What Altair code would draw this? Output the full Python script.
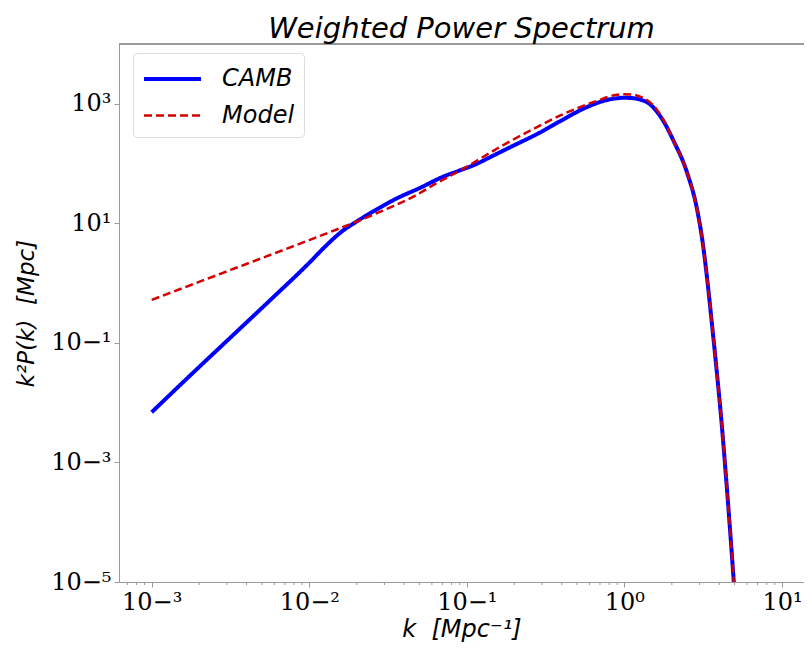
import altair as alt
import pandas as pd

# ---- data ----
camb_k = [0.001, 0.001778, 0.003162, 0.005623, 0.01, 0.01259, 0.01585, 0.01995,
          0.02512, 0.03548, 0.05012, 0.07079, 0.08913, 0.1122, 0.1413, 0.1905,
          0.2818, 0.3981, 0.5623, 0.7943, 1.0, 1.122, 1.259, 1.413, 1.585,
          1.778, 2.042, 2.512, 2.884, 3.162, 3.342, 3.597, 3.864, 4.159,
          4.426, 4.699, 4.932, 5.129]
camb_v = [0.00692, 0.0295, 0.123, 0.513, 2.19, 4.07, 7.08, 10.7,
          15.5, 25.7, 38.9, 60.3, 75.9, 95.5, 128.8, 190.5,
          316.2, 524.8, 851.1, 1175, 1259, 1245, 1175, 1035, 776,
          501, 245.5, 67.6, 17.8, 4.17, 1.259, 0.204, 0.0316, 0.00398,
          0.000525, 6.61e-5, 1.12e-5, 2.51e-6]

model_k = [0.001, 0.003162, 0.01, 0.01995, 0.03162, 0.04581, 0.0631, 0.0951,
           0.1549, 0.2523, 0.4102, 0.6683, 0.8913, 1.0, 1.122, 1.259, 1.413,
           1.585, 1.778, 2.042, 2.512, 2.884, 3.162, 3.342, 3.597, 3.864,
           4.159, 4.426, 4.699, 4.932, 5.129]
model_v = [0.525, 1.66, 5.25, 10.7, 17.8, 27.9, 45.7, 82.2,
           176.6, 355.6, 673, 1117, 1413, 1445, 1429, 1318, 1122,
           832, 525, 245.5, 67.6, 17.8, 4.17, 1.259, 0.204, 0.0316,
           0.00398, 0.000525, 6.61e-5, 1.12e-5, 2.51e-6]

series_names = ["CAMB", "Model"]
x_major = [0.001, 0.01, 0.1, 1, 10]
x_minor = [0.0007, 0.0008, 0.0009,
           0.002, 0.003, 0.004, 0.005, 0.006, 0.007, 0.008, 0.009,
           0.02, 0.03, 0.04, 0.05, 0.06, 0.07, 0.08, 0.09,
           0.2, 0.3, 0.4, 0.5, 0.6, 0.7, 0.8, 0.9,
           2, 3, 4, 5, 6, 7, 8, 9]
y_major = [1e-5, 1e-3, 1e-1, 1e1, 1e3]

# ---- build tables ----
df = pd.concat([
    pd.DataFrame({"series": series_names[0], "k": camb_k, "v": camb_v, "o": range(len(camb_k))}),
    pd.DataFrame({"series": series_names[1], "k": model_k, "v": model_v, "o": range(len(model_k))}),
])
minor_df = pd.DataFrame({"k": x_minor})

W, H = 685, 538
XDOM = [6.2e-4, 13.8]
YDOM = [1e-5, 1e4]
GRAY = "#9a9a9a"
NB = "\u00a0"

sup = ("'10' + replace(replace(replace(replace(replace(replace(replace("
       "format(round(log(datum.value)/LN10),'d'),"
       "'-','⁻'),'0','⁰'),'1','¹'),'3','³'),'5','⁵'),'2','²'),'4','⁴')")

xscale = alt.Scale(type="log", domain=XDOM, nice=False)
yscale = alt.Scale(type="log", domain=YDOM, nice=False)

lines = alt.Chart(df).mark_line(clip=True, interpolate="monotone").encode(
    x=alt.X("k:Q", scale=xscale,
            axis=alt.Axis(values=x_major, labelExpr=sup, grid=False,
                          title="k" + NB + NB + "[Mpc⁻¹]")),
    y=alt.Y("v:Q", scale=yscale,
            axis=alt.Axis(values=y_major, labelExpr=sup, grid=False,
                          title="k²P(k)" + NB + NB + "[Mpc]")),
    order="o:Q",
    color=alt.Color("series:N",
                    scale=alt.Scale(domain=series_names, range=["#0000ff", "#d40000"]),
                    legend=alt.Legend(title=None)),
    strokeDash=alt.StrokeDash("series:N",
                              scale=alt.Scale(domain=series_names, range=[[1, 0], [8, 4]]),
                              legend=alt.Legend(title=None)),
    strokeWidth=alt.StrokeWidth("series:N",
                                scale=alt.Scale(domain=series_names, range=[4, 2.5]),
                                legend=alt.Legend(title=None)),
)

minor = alt.Chart(minor_df).mark_rule(color=GRAY, strokeWidth=1).encode(
    x=alt.X("k:Q", scale=xscale),
    y=alt.value(H),
    y2=alt.value(H + 3),
)

top_spine = alt.Chart(minor_df).mark_rule(color=GRAY, strokeWidth=1).encode(
    x=alt.value(0), x2=alt.value(W), y=alt.value(0)
)

chart = alt.layer(top_spine, minor, lines).properties(
    width=W, height=H,
    autosize=alt.AutoSizeParams(type="none"),
    padding={"left": 111, "top": 36, "right": 0, "bottom": 63},
    title=alt.Title("Weighted Power Spectrum", font="DejaVu Sans", fontSize=29,
                    fontStyle="italic", fontWeight="normal", color="black",
                    anchor="middle", offset=0),
).configure_view(stroke=None).configure_axis(
    domainColor=GRAY, tickColor=GRAY, tickSize=5, domainWidth=1,
    labelFont="DejaVu Serif", labelFontSize=24, labelColor="black", labelPadding=3,
    titleFont="DejaVu Sans", titleFontStyle="italic", titleFontWeight="normal",
    titleFontSize=23, titleColor="black",
).configure_axisX(titlePadding=3, titleFontSize=24).configure_axisY(titlePadding=12).configure_legend(
    orient="none", legendX=14, legendY=9, fillColor="white", strokeColor="#dddddd",
    cornerRadius=4, padding=9, symbolType="M-1,0H2.8", symbolSize=900,
    labelFont="DejaVu Sans", labelFontStyle="italic", labelFontSize=24,
    labelOffset=46, rowPadding=8, labelColor="black",
)

chart.save("out.html", embed_options={"renderer": "svg", "actions": False})
